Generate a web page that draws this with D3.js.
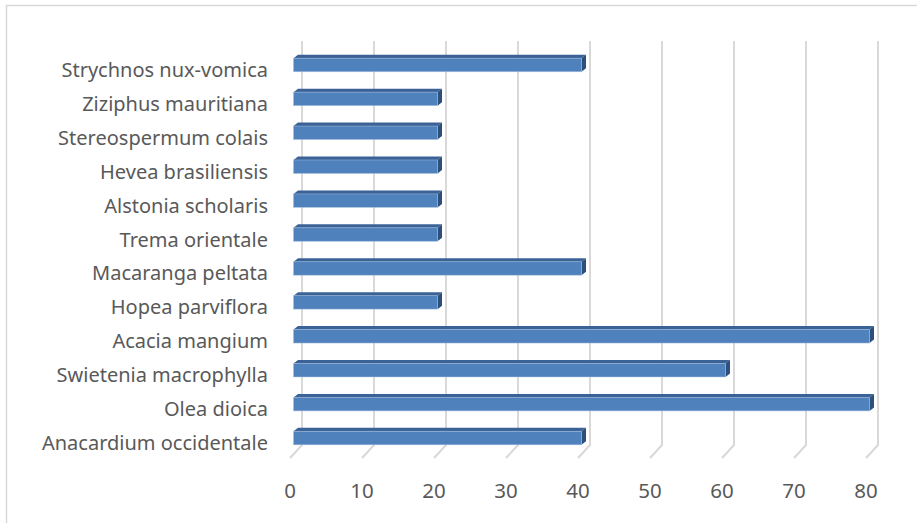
<!DOCTYPE html>
<html>
<head>
<meta charset="utf-8">
<script src="https://cdn.jsdelivr.net/npm/d3@7"></script>
<style>
  html, body { margin: 0; padding: 0; background: #fff; }
  svg { display: block; }
</style>
</head>
<body>
<script>
// Species, listed bottom to top as they appear on the axis
const species = [
  "Anacardium occidentale",
  "Olea dioica",
  "Swietenia macrophylla",
  "Acacia mangium",
  "Hopea parviflora",
  "Macaranga peltata",
  "Trema orientale",
  "Alstonia scholaris",
  "Hevea brasiliensis",
  "Stereospermum colais",
  "Ziziphus mauritiana",
  "Strychnos nux-vomica"
];
const values = [40, 80, 60, 80, 20, 40, 20, 20, 20, 20, 20, 40];
const tickValues = [0, 10, 20, 30, 40, 50, 60, 70, 80];

const W = 917, H = 523;
const svg = d3.select("body").append("svg").attr("width", W).attr("height", H);

// Chart frame
svg.append("path")
  .attr("d", `M6.5,${H} V5.5 H${W}`)
  .attr("fill", "none").attr("stroke", "#d9d9d9").attr("stroke-width", 1.5);

// Front-face value scale; the back wall sits a little to the right
const x = d3.scaleLinear().domain([0, 80]).range([293.5, 869.5]);
const wallDx = 8.5;           // back wall offset from bar front face
const floorDx = -12, floorDy = 13; // floor depth projection
const wallTop = 41, wallBottom = 445;

const y = d3.scaleBand()
  .domain(species.slice().reverse())
  .range([48, 455])
  .padding(0);

// Back-wall gridlines with floor stubs
const grid = svg.append("g");
tickValues.forEach(t => {
  const bx = x(t) + wallDx;
  grid.append("path")
    .attr("d", `M${bx},${wallTop} V${wallBottom} L${bx + floorDx},${wallBottom + floorDy}`)
    .attr("fill", "none")
    .attr("stroke", "#d9d9d9")
    .attr("stroke-width", 2);
});

// Value axis labels
svg.append("g").selectAll("text")
  .data(tickValues).join("text")
  .attr("x", d => x(d) + wallDx + floorDx)
  .attr("y", 498)
  .attr("text-anchor", "middle")
  .attr("font-family", "'Noto Sans', 'Open Sans', sans-serif")
  .attr("font-size", 20.5)
  .attr("fill", "#595959")
  .text(d => d);

// Category labels
svg.append("g").selectAll("text")
  .data(species).join("text")
  .attr("x", 268)
  .attr("y", d => y(d) + y.bandwidth() / 2 + 12)
  .attr("text-anchor", "end")
  .attr("font-family", "'Noto Sans', 'Open Sans', sans-serif")
  .attr("font-size", 20)
  .attr("fill", "#595959")
  .text(d => d);

// 3D bars: front face, top face and end cap
const barH = 13.5, dX = 4.5, dY = 3.5;
const bars = svg.append("g").selectAll("g")
  .data(species.map((s, i) => ({ s, v: values[i] })))
  .join("g");

bars.each(function(d) {
  const g = d3.select(this);
  const x0 = x(0), x1 = x(d.v);
  const yTop = y(d.s) + y.bandwidth() / 2 - barH / 2;
  const yBot = yTop + barH;
  // top face
  g.append("path")
    .attr("d", `M${x0},${yTop} L${x0 + dX},${yTop - dY} L${x1 + dX},${yTop - dY} L${x1},${yTop} Z`)
    .attr("fill", "#3b6296");
  // end cap
  g.append("path")
    .attr("d", `M${x1},${yTop} L${x1 + dX},${yTop - dY} L${x1 + dX},${yBot - dY} L${x1},${yBot} Z`)
    .attr("fill", "#2d4f7c");
  // front face
  g.append("rect")
    .attr("x", x0).attr("y", yTop)
    .attr("width", x1 - x0).attr("height", barH)
    .attr("fill", "#4f81bd")
    .attr("stroke", "#a7bfe0")
    .attr("stroke-opacity", 0.6)
    .attr("stroke-width", 0.8);
});
</script>
</body>
</html>
